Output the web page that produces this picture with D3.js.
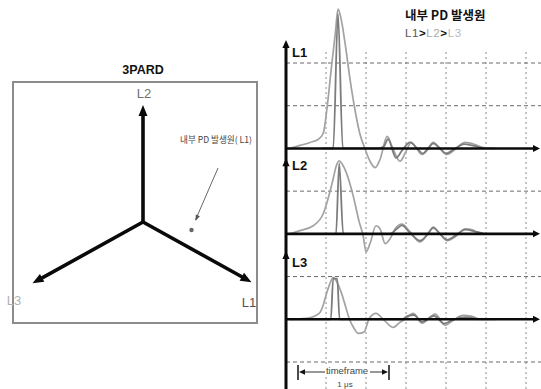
<!DOCTYPE html>
<html>
<head>
<meta charset="utf-8">
<script src="https://cdn.jsdelivr.net/npm/d3@7/dist/d3.min.js"></script>
<style>
  html, body { margin: 0; padding: 0; background: #fff; }
  svg { display: block; }
  text { font-family: "Liberation Sans", Arial, "Noto Sans CJK KR", sans-serif; }
  .kr { font-family: "Noto Sans CJK KR", "Liberation Sans", sans-serif; }
</style>
</head>
<body>
<svg id="chart" width="541" height="389"></svg>
<script>
// ---- Phasor diagram (3PARD) ----
const phasorNames  = ["L1", "L2", "L3"];
const phasorAngles = [-29, 90, 209];       // degrees, counter-clockwise from +x
const phasorMags   = [1.06, 1.0, 1.08];    // relative magnitude
const sourceAngle  = -9.3;                 // internal PD source location
const sourceMag    = 0.42;

// ---- Waveforms: [time (div), amplitude (div)] ----
const channels = ["L1", "L2", "L3"];
const channelBase = [2, 4, 6];             // grid row of each channel's zero line

const L1_wide = [[0.10,0],[0.35,0.07],[0.60,0.14],[0.80,0.21],[0.93,0.35],[1.03,0.98],[1.13,1.85],[1.23,2.67],[1.30,3.26],[1.38,3.02],[1.48,2.44],[1.60,1.62],[1.73,0.87],[1.85,0.33],[1.98,-0.02],[2.10,-0.30],[2.23,-0.45],[2.35,-0.26],[2.53,0.28],[2.65,0.05],[2.85,-0.30],[3.00,-0.07],[3.13,0.14],[3.25,0.02],[3.40,-0.14],[3.55,-0.02],[3.68,0.14],[3.85,0],[4.03,-0.14],[4.23,-0.02],[4.48,0.14],[4.73,0.09],[4.93,0.02],[5.23,0]];
const L1_fast = [[0.90,0],[1.18,0],[1.30,3.15],[1.42,0],[2.30,0],[2.45,0.05],[2.55,0.22],[2.75,-0.22],[2.90,-0.05],[3.10,0.14],[3.30,-0.02],[3.42,-0.12],[3.55,0],[3.68,0.12],[3.85,0],[4.00,-0.12],[4.20,-0.02],[4.45,0.10],[4.70,0.06],[4.95,0]];

const L2_wide = [[0.10,0],[0.33,0.07],[0.68,0.19],[0.93,0.47],[1.05,0.82],[1.18,1.29],[1.25,1.57],[1.33,1.71],[1.40,1.64],[1.50,1.45],[1.68,0.89],[1.83,0.28],[1.93,-0.05],[2.00,-0.42],[2.10,-0.23],[2.25,0.19],[2.35,0.12],[2.48,-0.23],[2.60,-0.12],[2.73,0.12],[2.90,0.23],[3.10,0.05],[3.35,-0.19],[3.53,-0.02],[3.68,0.16],[3.85,0],[4.03,-0.16],[4.23,-0.07],[4.48,0.12],[4.68,0.09],[4.85,0],[5.23,0]];
const L2_fast = [[0.90,0],[1.25,0],[1.33,1.65],[1.43,0],[2.60,0],[2.75,0.10],[2.90,0.20],[3.10,0.02],[3.35,-0.16],[3.55,0],[3.68,0.14],[3.85,0],[4.03,-0.14],[4.25,-0.03],[4.48,0.10],[4.75,0.05],[4.95,0]];

const L3_wide = [[0.10,0],[0.50,0.02],[0.83,0.14],[0.93,0.33],[1.00,0.56],[1.10,0.84],[1.18,0.98],[1.25,0.91],[1.38,0.63],[1.48,0.33],[1.58,0.02],[1.70,-0.21],[1.80,-0.33],[1.95,-0.30],[2.08,0.02],[2.25,0.14],[2.45,-0.02],[2.68,-0.19],[2.85,-0.07],[3.00,0.02],[3.18,0.14],[3.40,-0.09],[3.73,0.12],[3.98,-0.14],[4.18,-0.02],[4.43,0.09],[4.65,0.07],[4.85,0],[5.23,0]];
const L3_fast = [[0.10,0],[1.12,0],[1.18,0.95],[1.28,0.95],[1.34,0],[2.90,0],[3.05,0.08],[3.20,0.10],[3.40,-0.06],[3.70,0.08],[3.95,-0.10],[4.20,0],[4.50,0.05],[4.80,0]];

const wideTraces = [L1_wide, L2_wide, L3_wide];
const fastTraces = [L1_fast, L2_fast, L3_fast];

const xGridTicks = [1, 2, 3, 4, 5, 6];
const yDashedRows = [0, 1, 3, 5, 7];

const svg = d3.select("#chart");

function arrowHead(g, x, y, angleRad, len, half, fill) {
  const bx = x - len * Math.cos(angleRad), by = y - len * Math.sin(angleRad);
  const px = -Math.sin(angleRad) * half, py = Math.cos(angleRad) * half;
  g.append("path")
    .attr("d", `M${x},${y}L${bx + px},${by + py}L${bx - px},${by - py}Z`)
    .attr("fill", fill);
}

// ================= Left panel =================
const left = svg.append("g");
left.append("rect")
  .attr("x", 13).attr("y", 82).attr("width", 244).attr("height", 241)
  .attr("fill", "none").attr("stroke", "#8c8c8c").attr("stroke-width", 2);
left.append("text").attr("x", 143).attr("y", 74).attr("text-anchor", "middle")
  .attr("font-size", 12.5).attr("font-weight", "bold").attr("fill", "#111").text("3PARD");

const cx = 143, cy = 222;
const rScale = d3.scaleLinear().domain([0, 1]).range([0, 117]);
const polar = (angDeg, mag) => {
  const a = angDeg * Math.PI / 180, r = rScale(mag);
  return [cx + r * Math.cos(a), cy - r * Math.sin(a)];
};

phasorNames.forEach((name, i) => {
  const [tx, ty] = polar(phasorAngles[i], phasorMags[i]);
  const ang = Math.atan2(ty - cy, tx - cx);
  const ex = tx - 9 * Math.cos(ang), ey = ty - 9 * Math.sin(ang);
  left.append("line").attr("x1", cx).attr("y1", cy).attr("x2", ex).attr("y2", ey)
    .attr("stroke", "#0a0a0a").attr("stroke-width", 3.6).attr("stroke-linecap", "round");
  arrowHead(left, tx, ty, ang, 11, 4.5, "#0a0a0a");
});

left.append("text").attr("x", 144).attr("y", 98).attr("text-anchor", "middle")
  .attr("font-size", 13).attr("fill", "#707070").text("L2");
left.append("text").attr("x", 249).attr("y", 307).attr("text-anchor", "middle")
  .attr("font-size", 13).attr("fill", "#505050").text("L1");
left.append("text").attr("x", 14).attr("y", 305).attr("text-anchor", "middle")
  .attr("font-size", 13).attr("fill", "#b0b0b0").text("L3");

// internal PD source
const [sx, sy] = polar(sourceAngle, sourceMag);
left.append("circle").attr("cx", sx).attr("cy", sy).attr("r", 2.2).attr("fill", "#666");
left.append("line").attr("x1", 218).attr("y1", 168).attr("x2", sx + 4).attr("y2", sy - 10)
  .attr("stroke", "#666").attr("stroke-width", 1);
arrowHead(left, sx + 4, sy - 9, Math.atan2(sy - 9 - 168, sx + 4 - 218), 6, 2.2, "#555");
left.append("text").attr("class", "kr").attr("x", 180).attr("y", 143)
  .attr("font-size", 8.6).attr("fill", "#444").text("내부 PD 발생원( L1)");

// ================= Right panel =================
const x = d3.scaleLinear().domain([0, 6.35]).range([286, 540]);
const y = d3.scaleLinear().domain([0, 7]).range([63, 362]);
const right = svg.append("g");

// dashed grid
right.selectAll(".vgrid").data(xGridTicks).enter().append("line")
  .attr("x1", d => x(d)).attr("x2", d => x(d)).attr("y1", 52).attr("y2", 389)
  .attr("stroke", "#8a8a8a").attr("stroke-width", 1).attr("stroke-dasharray", "2,3");
right.selectAll(".hgrid").data(yDashedRows).enter().append("line")
  .attr("x1", x(0)).attr("x2", 541).attr("y1", d => y(d)).attr("y2", d => y(d))
  .attr("stroke", "#6a6a6a").attr("stroke-width", 1).attr("stroke-dasharray", "4,3");

// waveforms
const line = d3.line().curve(d3.curveMonotoneX);
channelBase.forEach((b, i) => {
  const toXY = d => [x(d[0]), y(b - d[1])];
  right.append("path").attr("d", line(wideTraces[i].map(toXY)))
    .attr("fill", "none").attr("stroke", "#a2a2a2").attr("stroke-width", 1.7);
  right.append("path").attr("d", line(fastTraces[i].map(toXY)))
    .attr("fill", "none").attr("stroke", "#7c7c7c").attr("stroke-width", 1.8);
});

// zero lines with arrows
channelBase.forEach(b => {
  right.append("line").attr("x1", x(0)).attr("x2", x(6.2)).attr("y1", y(b)).attr("y2", y(b))
    .attr("stroke", "#0a0a0a").attr("stroke-width", 2.6);
  arrowHead(right, x(6.35), y(b), 0, 7, 3.5, "#0a0a0a");
});

// vertical axis with an arrow for each channel
right.append("line").attr("x1", x(0)).attr("x2", x(0)).attr("y1", 46).attr("y2", 389)
  .attr("stroke", "#0a0a0a").attr("stroke-width", 3);
[-0.54, 2.23, 4.4].forEach(r => arrowHead(right, x(0), y(r), -Math.PI / 2, 8, 3.6, "#0a0a0a"));

channels.forEach((c, i) => {
  const rows = [-0.14, 2.5, 4.77];
  right.append("text").attr("x", 292).attr("y", y(rows[i])).attr("font-size", 13)
    .attr("font-weight", "bold").attr("fill", "#111").text(c);
});

// title
right.append("text").attr("class", "kr").attr("x", 405).attr("y", 20)
  .attr("font-size", 12.5).attr("font-weight", "bold").attr("fill", "#111").text("내부 PD 발생원");
const sub = right.append("text").attr("x", 405).attr("y", 37).attr("font-size", 11.5)
  .attr("letter-spacing", 0.6);
sub.append("tspan").attr("fill", "#555").text("L1");
sub.append("tspan").attr("fill", "#111").attr("font-weight", "bold").text(">");
sub.append("tspan").attr("fill", "#aaa").text("L2");
sub.append("tspan").attr("fill", "#111").attr("font-weight", "bold").text(">");
sub.append("tspan").attr("fill", "#bbb").text("L3");

// timeframe marker
const tf = right.append("g");
tf.append("line").attr("x1", 298).attr("x2", 298).attr("y1", 365).attr("y2", 380).attr("stroke", "#111").attr("stroke-width", 1.5);
tf.append("line").attr("x1", 389).attr("x2", 389).attr("y1", 365).attr("y2", 380).attr("stroke", "#111").attr("stroke-width", 1.5);
tf.append("line").attr("x1", 303).attr("x2", 384).attr("y1", 372).attr("y2", 372).attr("stroke", "#333").attr("stroke-width", 1);
arrowHead(tf, 299, 372, Math.PI, 6, 2.8, "#111");
arrowHead(tf, 388, 372, 0, 6, 2.8, "#111");
tf.append("rect").attr("x", 325).attr("y", 366).attr("width", 45).attr("height", 9).attr("fill", "#fff");
tf.append("text").attr("x", 347).attr("y", 374).attr("text-anchor", "middle")
  .attr("font-size", 9.5).attr("fill", "#444").text("timeframe");
tf.append("text").attr("x", 345).attr("y", 387).attr("text-anchor", "middle")
  .attr("font-size", 8).attr("fill", "#444").text("1 μs");
</script>
</body>
</html>
